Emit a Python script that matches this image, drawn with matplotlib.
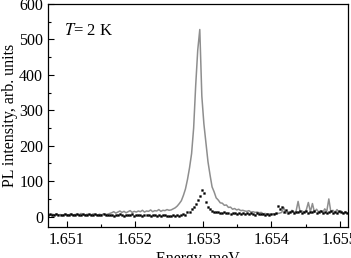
import matplotlib
matplotlib.use("Agg")
import matplotlib.pyplot as plt
from matplotlib.ticker import MultipleLocator

plt.rcParams['font.family'] = ['Liberation Serif', 'DejaVu Serif']
plt.rcParams['mathtext.fontset'] = 'stix'

energy = [
    1.65073, 1.65076, 1.65079, 1.65082, 1.65085, 1.65088, 1.65091, 1.65094, 1.65097, 1.65100,
    1.65103, 1.65106, 1.65109, 1.65112, 1.65115, 1.65118, 1.65121, 1.65124, 1.65127, 1.65130,
    1.65133, 1.65136, 1.65139, 1.65142, 1.65145, 1.65148, 1.65151, 1.65154, 1.65157, 1.65160,
    1.65163, 1.65166, 1.65169, 1.65172, 1.65175, 1.65178, 1.65181, 1.65184, 1.65187, 1.65190,
    1.65193, 1.65196, 1.65199, 1.65202, 1.65205, 1.65208, 1.65211, 1.65214, 1.65217, 1.65220,
    1.65223, 1.65226, 1.65229, 1.65232, 1.65235, 1.65238, 1.65241, 1.65244, 1.65247, 1.65250,
    1.65253, 1.65256, 1.65259, 1.65262, 1.65265, 1.65268, 1.65271, 1.65274, 1.65277, 1.65280,
    1.65283, 1.65286, 1.65289, 1.65292, 1.65295, 1.65298, 1.65301, 1.65304, 1.65307, 1.65310,
    1.65313, 1.65316, 1.65319, 1.65322, 1.65325, 1.65328, 1.65331, 1.65334, 1.65337, 1.65340,
    1.65343, 1.65346, 1.65349, 1.65352, 1.65355, 1.65358, 1.65361, 1.65364, 1.65367, 1.65370,
    1.65373, 1.65376, 1.65379, 1.65382, 1.65385, 1.65388, 1.65391, 1.65394, 1.65397, 1.65400,
    1.65403, 1.65406, 1.65409, 1.65412, 1.65415, 1.65418, 1.65421, 1.65424, 1.65427, 1.65430,
    1.65433, 1.65436, 1.65439, 1.65442, 1.65445, 1.65448, 1.65451, 1.65454, 1.65457, 1.65460,
    1.65463, 1.65466, 1.65469, 1.65472, 1.65475, 1.65478, 1.65481, 1.65484, 1.65487, 1.65490,
    1.65493, 1.65496, 1.65499, 1.65502, 1.65505, 1.65508, 1.65511,
]

gray_intensity = [
    6, 4, 7, 5, 8, 5, 6, 3, 7, 6, 5, 8, 4, 6, 7, 5, 9, 6, 4, 7, 6, 5, 8, 6, 4, 7, 5, 8, 6, 7, 9,
    11, 14, 10, 13, 16, 12, 15, 11, 14, 17, 12, 15, 13, 16, 14, 18, 13, 16, 15, 19, 14, 17, 16, 20, 15, 18, 17, 20,
    18, 19, 22, 25, 30, 37, 45, 60, 78, 105, 138, 178, 250, 370, 470, 528,
    340, 262, 208, 155, 118, 84, 70, 53, 47, 39, 38, 32, 33, 26, 27, 21, 23, 19, 21, 17, 18,
    16, 15, 17, 13, 14, 12, 13, 11, 12,
    8, 9, 7, 8, 6, 8, 7, 9, 10,
    12, 26, 10, 14, 11, 18, 12, 15, 43, 13, 16, 12, 19, 40, 14, 37, 12, 21, 13, 17, 11, 22, 15, 50,
    13, 18, 12, 20, 11, 16, 9, 14, 10,
]

black_intensity = [
    5, 7, 4, 6, 8, 5, 6, 4, 7, 5, 6, 8, 5, 4, 7, 6, 5, 7, 4, 6, 8, 5, 6, 7, 4, 6, 5, 7, 6, 4, 6,
    5, 3, 6, 4, 7, 5, 3, 6, 4, 5, 7, 3, 5, 6, 4, 2, 5, 4, 6, 3, 5, 4, 2, 5, 3, 6, 4, 3,
    3, 1, 4, 2, 5, 3, 6, 8, 6, 12, 14, 22, 26, 36, 46, 58,
    74, 66, 42, 28, 22, 17, 14, 12, 14, 11, 10, 12, 9, 11, 8, 10, 9, 8, 10, 7, 9,
    8, 10, 7, 9, 8, 6, 9, 7, 8,
    7, 6, 8, 5, 7, 8, 10, 30, 22,
    26, 14, 18, 11, 13, 16, 10, 14, 12, 15, 9, 13, 17, 11, 14, 12, 16, 10, 13, 15, 11, 14, 9, 12,
    16, 10, 13, 11, 15, 12, 9, 14, 11,
]

x_ticks = [1.651, 1.652, 1.653, 1.654, 1.655]
x_ticklabels = ["1.651", "1.652", "1.653", "1.654", "1.655"]
y_ticks = [0, 100, 200, 300, 400, 500, 600]

fig = plt.figure(figsize=(3.51, 2.58), dpi=100)
ax = fig.add_axes([0.1368, 0.119, 0.8535, 0.8655])

ax.plot(energy, gray_intensity, color='#8e8e8e', lw=1.1, zorder=2)
ax.plot(energy, black_intensity, linestyle='none', marker='s', ms=1.3,
        color='black', mec='black', mew=0.3, zorder=3)

ax.set_xlim(1.650727, 1.655115)
ax.set_ylim(-30, 600)
ax.set_xticks(x_ticks)
ax.set_xticklabels(x_ticklabels)
ax.set_yticks(y_ticks)
ax.xaxis.set_minor_locator(MultipleLocator(0.0005))
ax.yaxis.set_minor_locator(MultipleLocator(50))
ax.tick_params(which='both', direction='in', labelsize=11.5, width=0.8,
               top=False, right=False)
ax.tick_params(which='major', length=4.5, pad=3.5)
ax.tick_params(which='minor', length=2.5)
for s in ax.spines.values():
    s.set_linewidth(0.9)

ax.set_xlabel("Energy, meV", fontsize=11.5, labelpad=2)
ax.set_ylabel("PL intensity, arb. units", fontsize=11.5, labelpad=0.5)
ax.text(0.055, 0.88, r"$T$= 2 K", transform=ax.transAxes, fontsize=12,
        ha='left', va='center')

fig.savefig("out.png", dpi=100)
